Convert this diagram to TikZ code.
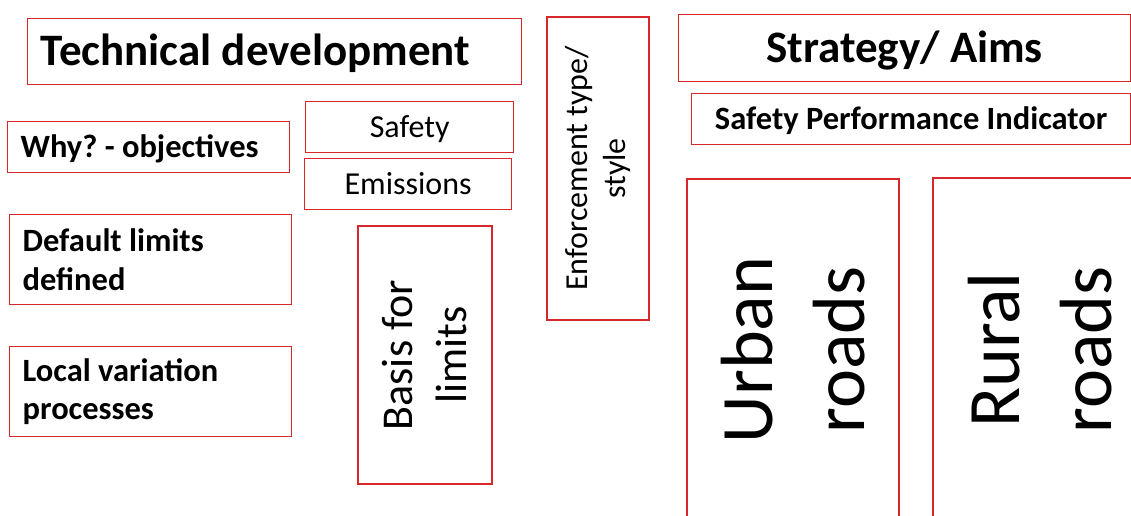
\documentclass[tikz,border=0pt]{standalone}
\usepackage{fontspec}
\setmainfont{Carlito}
\frenchspacing
\definecolor{boxred}{RGB}{214,40,42}
\tikzset{
  box/.style={draw=boxred, line width=1.3pt, rectangle, inner sep=0pt, text=black},
  leftbox/.style={box, anchor=north west, align=flush left, inner xsep=13pt},
  midbox/.style={box, anchor=north west, align=center},
  upbox/.style={box, rotate=90, align=center},
  % single-line labels: centre the capitals in the box
  capsbig/.style={text height=28pt, text depth=0pt},
  capsmid/.style={text height=20pt, text depth=0pt},
  big/.style={font=\fontsize{45}{54}\selectfont\bfseries},
  mid/.style={font=\fontsize{32.5}{38.5}\selectfont\bfseries},
  plain/.style={font=\fontsize{32}{38.5}\selectfont},
  basis/.style={font=\fontsize{44}{54}\selectfont},
  huge/.style={font=\fontsize{74}{92}\selectfont}
}
\begin{document}
\begin{tikzpicture}[x=1pt,y=-1pt]
\path[use as bounding box] (0,0) rectangle (1131,516);
\clip (0,0) rectangle (1131,516);

% left column
\node[leftbox, big, capsbig, text width=468pt, minimum height=66pt] (tech) at (27,18) {Technical development};
\node[leftbox, mid, capsmid, text width=256pt, minimum height=51pt] (why) at (7,121) {Why? - objectives};
\node[leftbox, mid, text width=256pt, minimum height=90pt] (default) at (9,214) {Default limits\\defined};
\node[leftbox, mid, text width=256pt, minimum height=90pt] (local) at (9,346) {Local variation\\processes};

% objectives
\node[midbox, plain, capsmid, minimum width=208pt, minimum height=51pt] (safety) at (305,101) {Safety};
\node[midbox, plain, capsmid, minimum width=207pt, minimum height=51pt] (emis) at (304,158) {Emissions};

% vertical boxes
\node[upbox, basis, minimum width=258pt, minimum height=134pt] (basisbox) at (425,355) {Basis for\\limits};
\node[upbox, plain, minimum width=303pt, minimum height=102pt] (enforce) at (598,168.5) {Enforcement type/\\style};

% right column
\node[midbox, big, capsbig, minimum width=452pt, minimum height=67pt] (strategy) at (678,14) {Strategy/ Aims};
\node[midbox, mid, capsmid, minimum width=439pt, minimum height=51pt] (spi) at (691,93) {Safety Performance Indicator};
\node[upbox, huge, minimum width=342pt, minimum height=212pt] (urban) at (793,350) {Urban\\roads};
\node[upbox, huge, minimum width=344pt, minimum height=214pt] (rural) at (1040,350) {Rural\\roads};
\end{tikzpicture}
\end{document}
